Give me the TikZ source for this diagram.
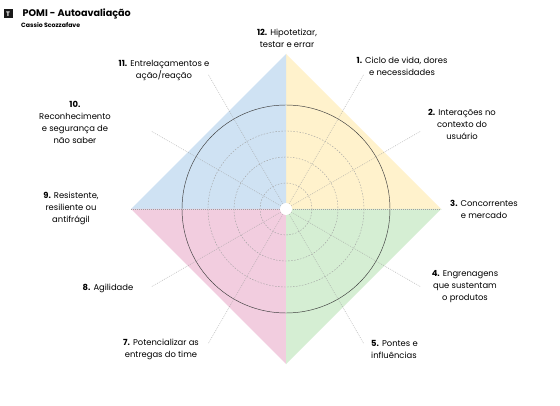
\documentclass[tikz,border=0pt]{standalone}
\usepackage{fontspec}
\setmainfont{Poppins}
\usetikzlibrary{calc}
\definecolor{qblue}{RGB}{207,226,243}
\definecolor{qyellow}{RGB}{255,242,204}
\definecolor{qpink}{RGB}{242,205,223}
\definecolor{qgreen}{RGB}{213,238,211}
\definecolor{ringcol}{RGB}{60,60,60}
\definecolor{spokecol}{RGB}{160,160,160}
\begin{document}
\begin{tikzpicture}[x=1pt,y=-1pt,
  lbl/.style={align=center,font=\fontsize{8.4}{12}\selectfont,inner sep=0pt,text=black},
  lbll/.style={align=left,font=\fontsize{8.4}{12}\selectfont,inner sep=0pt,text=black},
  spoke/.style={spokecol,dash pattern=on 0.8pt off 1.2pt,line width=0.4pt},
  ring/.style={ringcol,line width=0.45pt},
  dring/.style={spokecol,dash pattern=on 1.5pt off 1.5pt,line width=0.4pt}]
\useasboundingbox[fill=white] (0,0) rectangle (560,406);
\coordinate (c) at (286,209);
% quadrants
\coordinate (vt) at (286,54);
\coordinate (vb) at (286,364);
\coordinate (vl) at (131,209);
\coordinate (vr) at (441,209);
\fill[qyellow] (c) -- (vt) -- (vr) -- cycle;
\fill[qblue] (c) -- (vt) -- (vl) -- cycle;
\fill[qpink] (c) -- (vl) -- (vb) -- cycle;
\fill[qgreen] (c) -- (vr) -- (vb) -- cycle;
% axis
\draw[spoke] (vl) -- (vr);
% rings
\draw[dring] (c) circle[radius=26];
\draw[dring] (c) circle[radius=52];
\draw[dring] (c) circle[radius=78];
\draw[ring] (c) circle[radius=104];
% spokes
\foreach \a/\n in {60/s1,30/s2,-30/s4,-60/s5,-120/s7,-150/s8,150/s10,120/s11}{
  \coordinate (\n) at ($(c)+(\a:155pt)$);
  \draw[spoke] (c) -- (\n);
}
\fill[white] (c) circle[radius=6];
% title
\node[fill=black!90,text=white,font=\bfseries\fontsize{6.5}{6.5}\selectfont,minimum size=9pt,inner sep=0pt] (icon) at (8,14) {T};
\node[anchor=west,font=\bfseries\fontsize{9.6}{9.6}\selectfont,inner sep=0pt] (title) at (22.5,14) {POMI - Autoavaliação};
\node[anchor=west,font=\bfseries\fontsize{6.2}{6.2}\selectfont,inner sep=0pt] (author) at (21,25) {Cassio Scozzafave};
% labels
\node[lbl] (l12) at (287,38) {\textbf{12.} Hipotetizar,\\testar e errar};
\node[lbl] (l1) at (402,66) {\textbf{1.} Ciclo de vida, dores\\e necessidades};
\node[lbl] (l2) at (462,124) {\textbf{2.} Interações no\\contexto do\\usuário};
\node[lbl] (l3) at (484,209) {\textbf{3.} Concorrentes\\e mercado};
\node[lbl] (l4) at (465,287) {\textbf{4.} Engrenagens\\que sustentam\\o produtos};
\node[lbll,anchor=west] (l5) at (371,349) {\textbf{5.} Pontes e\\influências};
\node[lbl] (l7) at (161,349) {\textbf{7.} Potencializar as\\entregas do time};
\node[lbl] (l8) at (108,288) {\textbf{8.} Agilidade};
\node[lbl] (l9) at (71,208) {\textbf{9.} Resistente,\\resiliente ou\\antifrágil};
\node[lbl] (l10) at (75,122) {\textbf{10.}\\Reconhecimento\\e segurança de\\não saber};
\node[lbl] (l11) at (164,70) {\textbf{11.} Entrelaçamentos e\\ação/reação};
\end{tikzpicture}
\end{document}
